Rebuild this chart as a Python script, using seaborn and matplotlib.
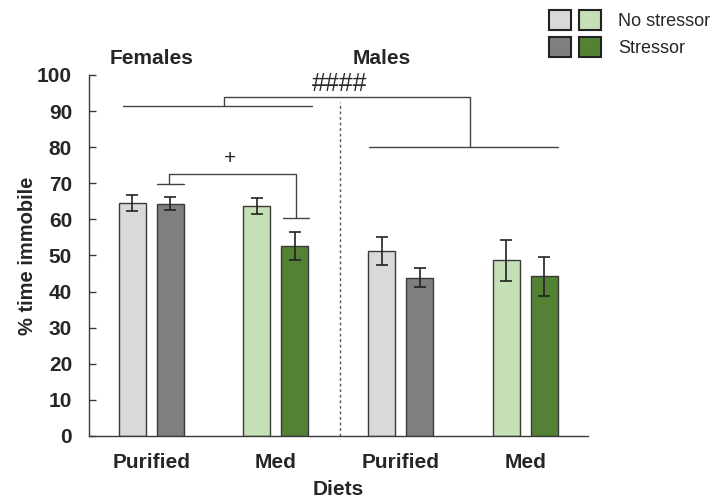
import numpy as np
import pandas as pd
import matplotlib
matplotlib.use("Agg")
import matplotlib.pyplot as plt
from matplotlib.patches import Patch
from matplotlib.legend_handler import HandlerTuple
import seaborn as sns

# --- data ---
groups = ["F-Purified", "F-Med", "M-Purified", "M-Med"]
group_labels = ["Purified", "Med", "Purified", "Med"]
no_stressor = [64.5, 63.7, 51.2, 48.7]
no_stressor_err = [2.2, 2.2, 3.8, 5.7]
stressor = [64.3, 52.6, 43.8, 44.3]
stressor_err = [1.8, 3.9, 2.6, 5.4]

light_gray, dark_gray = "#d9d9d9", "#7f7f7f"
light_green, dark_green = "#c5e0b4", "#548235"
edge = "#3a3a3a"

sns.set_theme(style="white")
plt.rcParams["font.family"] = ["Liberation Sans", "DejaVu Sans"]

df = pd.DataFrame({
    "group": groups * 2,
    "cond": ["No stressor"] * 4 + ["Stressor"] * 4,
    "value": no_stressor + stressor,
})

fig = plt.figure(figsize=(7.16, 4.99), dpi=100)
ax = fig.add_axes([0.124, 0.1263, 0.697, 0.7234])

sns.barplot(data=df, x="group", y="value", hue="cond", order=groups,
            hue_order=["No stressor", "Stressor"], palette=[light_gray, dark_gray],
            width=0.61, gap=0.29, errorbar=None, legend=False,
            edgecolor=edge, linewidth=1, ax=ax)

# recolour Med bars green; patches are ordered hue level then x
bars = [p for p in ax.patches]
fills = [light_gray, light_green, light_gray, light_green,
         dark_gray, dark_green, dark_gray, dark_green]
for p, c in zip(bars, fills):
    p.set_facecolor(c)

xs = [p.get_x() + p.get_width() / 2 for p in bars]
ax.errorbar(xs, no_stressor + stressor, yerr=no_stressor_err + stressor_err,
            fmt="none", ecolor="#222222", elinewidth=1.2, capsize=4, capthick=1.2)

ax.set_xlim(-0.5, 3.5)
ax.set_ylim(0, 100)
ax.set_yticks(range(0, 101, 10))
ax.set_xticks(range(4))
ax.set_xticklabels(group_labels, fontsize=15, fontweight="bold")
ax.tick_params(axis="y", labelsize=15, length=5, width=1, color=edge,
               direction="in", left=True, pad=12)
for t in ax.get_yticklabels():
    t.set_fontweight("bold")
ax.tick_params(axis="x", length=0, pad=12)
ax.set_xlabel("Diets", fontsize=15, fontweight="bold", labelpad=6)
ax.set_ylabel("% time immobile", fontsize=14.5, fontweight="bold", labelpad=0)
for s in ["top", "right"]:
    ax.spines[s].set_visible(False)
for s in ["left", "bottom"]:
    ax.spines[s].set_color(edge)
    ax.spines[s].set_linewidth(1)

# sex divider
ax.plot([1.512, 1.512], [0, 92.5], color="#555555", lw=1, ls=(0, (2, 2)))
ax.text(0.0, 104.5, "Females", ha="center", va="center", fontsize=15, fontweight="bold")
ax.text(1.85, 104.5, "Males", ha="center", va="center", fontsize=15, fontweight="bold")

# sex effect bracket
lc = "#444444"
ax.plot([-0.225, 1.287], [91.4, 91.4], color=lc, lw=1)
ax.plot([1.746, 3.258], [80, 80], color=lc, lw=1)
ax.plot([0.587, 0.587, 2.558, 2.558], [91.4, 93.9, 93.9, 80], color=lc, lw=1)
ax.text(1.51, 97.4, "####", ha="center", va="center", fontsize=18)

# stressor trend bracket (females)
ax.plot([0.048, 0.265], [69.8, 69.8], color=lc, lw=1)
ax.plot([1.054, 1.263], [60.4, 60.4], color=lc, lw=1)
ax.plot([0.145, 0.145, 1.158, 1.158], [69.8, 72.6, 72.6, 60.4], color=lc, lw=1)
ax.text(0.636, 77.0, "+", ha="center", va="center", fontsize=15)

handles = [
    (Patch(facecolor=light_gray, edgecolor="#222222", lw=1.5),
     Patch(facecolor=light_green, edgecolor="#222222", lw=1.5)),
    (Patch(facecolor=dark_gray, edgecolor="#222222", lw=1.5),
     Patch(facecolor=dark_green, edgecolor="#222222", lw=1.5)),
]
fig.legend(handles, ["No stressor", "Stressor"], loc="upper left",
           bbox_to_anchor=(0.7668, 0.98), frameon=False, fontsize=13,
           borderpad=0, borderaxespad=0,
           handler_map={tuple: HandlerTuple(ndivide=None, pad=0.44)},
           handlelength=2.88, handleheight=1.3, labelspacing=0.42, handletextpad=0.95)

fig.savefig("out.png", dpi=100)
